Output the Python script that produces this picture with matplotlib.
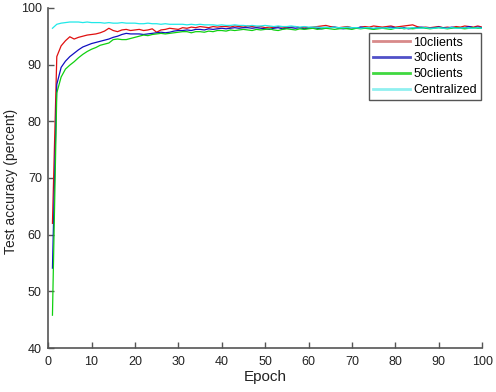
import matplotlib
matplotlib.use("Agg")
import matplotlib.pyplot as plt
from matplotlib.lines import Line2D

plt.rcParams['font.family'] = ['Liberation Sans', 'DejaVu Sans']

epochs = list(range(1, 101))

acc_10 = [62.0, 91.4, 93.3, 94.2, 94.9, 94.5, 94.8, 95.0, 95.2, 95.3,
          95.4, 95.6, 95.9, 96.4, 96.0, 95.8, 96.1, 96.2, 96.0, 96.1,
          96.2, 96.0, 96.1, 96.3, 95.7, 96.1, 96.2, 96.4, 96.3, 96.2,
          96.5, 96.4, 96.6, 96.5, 96.7, 96.6, 96.5, 96.7, 96.6, 96.7,
          96.7, 96.6, 96.8, 96.7, 96.6, 96.8, 96.7, 96.6, 96.7, 96.5,
          96.6, 96.5, 96.7, 96.6, 96.5, 96.6, 96.7, 96.5, 96.6, 96.5,
          96.6, 96.7, 96.8, 96.9, 96.7, 96.6, 96.5, 96.6, 96.7, 96.5,
          96.4, 96.6, 96.7, 96.6, 96.8, 96.7, 96.6, 96.7, 96.8, 96.6,
          96.7, 96.8, 96.9, 97.0, 96.7, 96.5, 96.6, 96.5, 96.6, 96.7,
          96.5, 96.6, 96.5, 96.7, 96.6, 96.8, 96.7, 96.6, 96.8, 96.6]

acc_30 = [54.1, 86.5, 89.5, 90.6, 91.4, 92.0, 92.6, 93.1, 93.4, 93.7,
          93.9, 94.1, 94.3, 94.5, 94.8, 95.0, 95.3, 95.5, 95.4, 95.4,
          95.4, 95.3, 95.4, 95.5, 95.6, 95.7, 95.6, 95.7, 95.9, 96.0,
          96.0, 96.1, 96.0, 96.2, 96.2, 96.1, 96.3, 96.2, 96.3, 96.4,
          96.3, 96.4, 96.5, 96.4, 96.5, 96.5, 96.4, 96.5, 96.4, 96.3,
          96.2, 96.4, 96.5, 96.3, 96.4, 96.5, 96.4, 96.5, 96.3, 96.4,
          96.5, 96.4, 96.3, 96.4, 96.5, 96.6, 96.4, 96.3, 96.4, 96.5,
          96.4, 96.6, 96.5, 96.4, 96.3, 96.5, 96.4, 96.5, 96.6, 96.5,
          96.4, 96.5, 96.3, 96.4, 96.5, 96.6, 96.5, 96.4, 96.5, 96.6,
          96.5, 96.4, 96.6, 96.5, 96.4, 96.5, 96.7, 96.5, 96.6, 96.5]

acc_50 = [45.8, 85.0, 87.8, 89.2, 89.9, 90.5, 91.2, 91.8, 92.3, 92.7,
          93.0, 93.4, 93.6, 93.8, 94.4, 94.5, 94.4, 94.4, 94.6, 94.8,
          95.0, 95.2, 95.1, 95.3, 95.4, 95.5, 95.4, 95.5, 95.6, 95.7,
          95.8, 95.8, 95.6, 95.8, 95.8, 95.7, 95.9, 95.8, 96.0, 96.0,
          95.9, 96.1, 96.0, 96.1, 96.2, 96.1, 96.0, 96.2, 96.1, 96.2,
          96.3, 96.1, 96.0, 96.2, 96.3, 96.2, 96.1, 96.3, 96.2, 96.3,
          96.4, 96.2, 96.3, 96.4, 96.3, 96.2, 96.3, 96.4, 96.3, 96.2,
          96.4, 96.3, 96.4, 96.3, 96.2, 96.3, 96.4, 96.3, 96.2, 96.4,
          96.5, 96.3, 96.4, 96.3, 96.4, 96.5, 96.4, 96.3, 96.4, 96.5,
          96.4, 96.3, 96.4, 96.5, 96.4, 96.3, 96.4, 96.5, 96.4, 96.4]

acc_central = [96.4, 97.1, 97.3, 97.4, 97.5, 97.5, 97.5, 97.4, 97.5, 97.4,
               97.4, 97.4, 97.3, 97.4, 97.3, 97.3, 97.4, 97.3, 97.3, 97.3,
               97.2, 97.2, 97.3, 97.2, 97.2, 97.1, 97.2, 97.1, 97.1, 97.1,
               97.1, 97.0, 97.1, 97.0, 97.1, 97.0, 97.0, 97.0, 96.9, 97.0,
               96.9, 96.9, 97.0, 96.9, 96.9, 96.8, 96.9, 96.8, 96.8, 96.9,
               96.8, 96.7, 96.8, 96.7, 96.7, 96.8, 96.7, 96.6, 96.7, 96.6,
               96.6, 96.6, 96.5, 96.6, 96.5, 96.6, 96.5, 96.5, 96.6, 96.5,
               96.5, 96.4, 96.5, 96.5, 96.4, 96.5, 96.4, 96.5, 96.4, 96.4,
               96.5, 96.4, 96.4, 96.5, 96.4, 96.4, 96.5, 96.4, 96.4, 96.5,
               96.4, 96.4, 96.5, 96.4, 96.4, 96.5, 96.4, 96.4, 96.5, 96.4]

labels = ['10clients', '30clients', '50clients', 'Centralized']
colors = ['#e01010', '#1010c0', '#10d010', '#20e8e8']
legend_colors = ['#d88a8a', '#5050c8', '#40d840', '#90f0f0']

fig = plt.figure(figsize=(4.96, 3.92), dpi=100)
ax = fig.add_axes([0.097, 0.112, 0.875, 0.868])

for ys, c in zip([acc_10, acc_30, acc_50, acc_central], colors):
    ax.plot(epochs, ys, color=c, linewidth=0.9)

ax.set_xlim(0, 100)
ax.set_ylim(40, 100)
ax.set_xticks(range(0, 101, 10))
ax.set_yticks(range(40, 101, 10))
ax.set_xlabel('Epoch', fontsize=11, labelpad=1, color='#222222')
ax.set_ylabel('Test accuracy (percent)', fontsize=10, color='#222222')
ax.yaxis.set_label_coords(-0.069, 0.49)

for s in ['top', 'right']:
    ax.spines[s].set_visible(False)
for s in ['left', 'bottom']:
    ax.spines[s].set_color('#555555')
    ax.spines[s].set_linewidth(1.2)
ax.tick_params(direction='in', length=4, width=1, color='#555555',
               labelsize=9, labelcolor='#222222')
ax.tick_params(axis='x', pad=6)
ax.tick_params(axis='y', pad=4.5)

handles = [Line2D([0], [0], color=c, linewidth=2) for c in legend_colors]
leg = ax.legend(handles, labels, loc='upper right', bbox_to_anchor=(1.0, 0.93),
                fontsize=9, handlelength=3.0, handletextpad=0.25,
                labelspacing=0.3, borderpad=0.3, fancybox=False,
                framealpha=1, borderaxespad=0.1)
leg.get_frame().set_edgecolor('#555555')
leg.get_frame().set_linewidth(1)

fig.savefig('out.png', dpi=100)
